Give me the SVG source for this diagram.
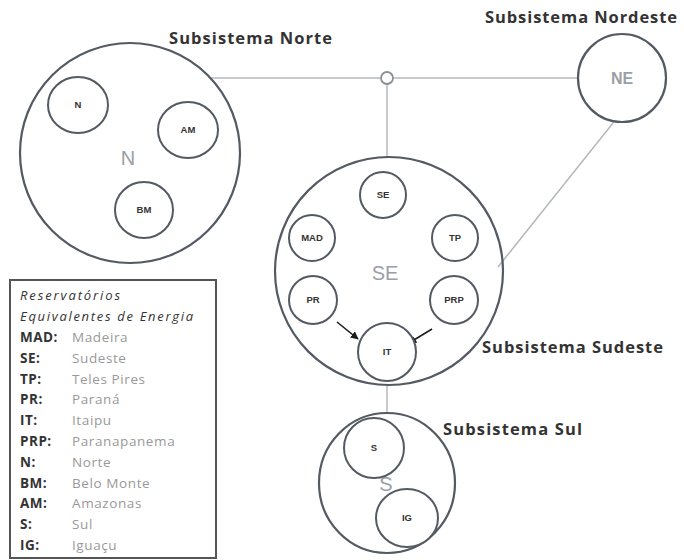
<svg xmlns="http://www.w3.org/2000/svg" width="684" height="560" viewBox="0 0 684 560">
<style>
.big{fill:none;stroke:#535a63;stroke-width:2.2}
.sm{fill:#fff;stroke:#535a63;stroke-width:2}
.conn{fill:none;stroke:#b4b8bc;stroke-width:1.5}
.arr{stroke:#1a1a1a;stroke-width:1.6;fill:none}
.title{font-family:"Open Sans","Liberation Sans",sans-serif;font-weight:bold;font-size:16.5px;fill:#333}
.lbl{font-family:"Liberation Sans",sans-serif;font-weight:bold;font-size:9.5px;fill:#333;text-anchor:middle}
.glbl{font-family:"Liberation Sans",sans-serif;font-size:20px;fill:#9aa0a6;text-anchor:middle}
.lk{font-family:"Open Sans","Liberation Sans",sans-serif;font-weight:bold;font-size:13.5px;fill:#333;letter-spacing:0.5px}
.lv{font-family:"Open Sans","Liberation Sans",sans-serif;font-size:13.5px;fill:#999;letter-spacing:0.6px}
.lh{font-family:"Open Sans","Liberation Sans",sans-serif;font-style:italic;font-size:13px;fill:#333}
</style>
<defs>
<marker id="ah" viewBox="0 0 10 10" refX="9" refY="5" markerWidth="5" markerHeight="5" orient="auto"><path d="M0,0 L10,5 L0,10 z" fill="#1a1a1a"/></marker>
</defs>
<rect width="684" height="560" fill="#fff"/>
<g id="connectors">
<line class="conn" x1="210" y1="78" x2="381" y2="78"/>
<line class="conn" x1="393" y1="78" x2="578" y2="78"/>
<line class="conn" x1="387" y1="84" x2="387" y2="158"/>
<line class="conn" x1="613" y1="123" x2="498" y2="267"/>
<line class="conn" x1="387" y1="385" x2="387" y2="413"/>
<circle cx="387" cy="78" r="6" fill="#fff" stroke="#8a9096" stroke-width="1.8"/>
<line class="arr" x1="337" y1="322" x2="358" y2="339" marker-end="url(#ah)"/>
<line class="arr" x1="432" y1="329" x2="409" y2="343" marker-end="url(#ah)"/>
</g>
<g id="norte">
<text class="title" x="169" y="44" textLength="163">Subsistema Norte</text>
<circle class="big" cx="130" cy="153" r="110"/>
<text class="glbl" x="128" y="165">N</text>
<g id="n-n"><ellipse class="sm" cx="78" cy="105" rx="30" ry="28"/><text class="lbl" x="78" y="108">N</text></g>
<g id="n-am"><ellipse class="sm" cx="188" cy="130" rx="30" ry="28"/><text class="lbl" x="188" y="133">AM</text></g>
<g id="n-bm"><ellipse class="sm" cx="144" cy="210" rx="29" ry="28"/><text class="lbl" x="144" y="213">BM</text></g>
</g>
<g id="nordeste">
<text class="title" x="485" y="23" textLength="192">Subsistema Nordeste</text>
<circle class="big" cx="622" cy="78" r="44"/>
<text class="glbl" x="622" y="84" style="font-size:16px;font-weight:bold">NE</text>
</g>
<g id="sudeste">
<circle class="big" cx="389" cy="271" r="114"/>
<text class="glbl" x="385" y="280">SE</text>
<text class="title" x="482" y="353" textLength="181">Subsistema Sudeste</text>
<g id="se-se"><circle class="sm" cx="383" cy="195" r="23"/><text class="lbl" x="383" y="198">SE</text></g>
<g id="se-mad"><circle class="sm" cx="312" cy="238" r="23"/><text class="lbl" x="312" y="241">MAD</text></g>
<g id="se-tp"><circle class="sm" cx="455" cy="238" r="23"/><text class="lbl" x="455" y="241">TP</text></g>
<g id="se-pr"><circle class="sm" cx="313" cy="300" r="24"/><text class="lbl" x="313" y="303">PR</text></g>
<g id="se-prp"><circle class="sm" cx="454" cy="300" r="24"/><text class="lbl" x="454" y="303">PRP</text></g>
<g id="se-it"><circle class="sm" cx="387" cy="352" r="29"/><text class="lbl" x="387" y="355">IT</text></g>
</g>
<g id="sul">
<text class="title" x="443" y="435" textLength="139">Subsistema Sul</text>
<ellipse class="big" cx="387" cy="483" rx="68" ry="70"/>
<text class="glbl" x="386" y="491">S</text>
<g id="s-s"><circle class="sm" cx="374" cy="448" r="30"/><text class="lbl" x="374" y="451">S</text></g>
<g id="s-ig"><ellipse class="sm" cx="407" cy="518" rx="31" ry="29"/><text class="lbl" x="407" y="521">IG</text></g>
</g>
<g id="legend">
<rect x="10" y="280" width="206" height="278" fill="#fff" stroke="#555" stroke-width="2"/>
<text class="lh" x="20" y="300" textLength="100">Reservatórios</text>
<text class="lh" x="20" y="321" textLength="173">Equivalentes de Energia</text>
<text class="lk" x="20" y="342">MAD:</text><text class="lv" x="72" y="342">Madeira</text>
<text class="lk" x="20" y="362.8">SE:</text><text class="lv" x="72" y="362.8">Sudeste</text>
<text class="lk" x="20" y="383.6">TP:</text><text class="lv" x="72" y="383.6">Teles Pires</text>
<text class="lk" x="20" y="404.4">PR:</text><text class="lv" x="72" y="404.4">Paraná</text>
<text class="lk" x="20" y="425.2">IT:</text><text class="lv" x="72" y="425.2">Itaipu</text>
<text class="lk" x="20" y="446">PRP:</text><text class="lv" x="72" y="446">Paranapanema</text>
<text class="lk" x="20" y="466.8">N:</text><text class="lv" x="72" y="466.8">Norte</text>
<text class="lk" x="20" y="487.6">BM:</text><text class="lv" x="72" y="487.6">Belo Monte</text>
<text class="lk" x="20" y="508.4">AM:</text><text class="lv" x="72" y="508.4">Amazonas</text>
<text class="lk" x="20" y="529.2">S:</text><text class="lv" x="72" y="529.2">Sul</text>
<text class="lk" x="20" y="550">IG:</text><text class="lv" x="72" y="550">Iguaçu</text>
</g>
</svg>
